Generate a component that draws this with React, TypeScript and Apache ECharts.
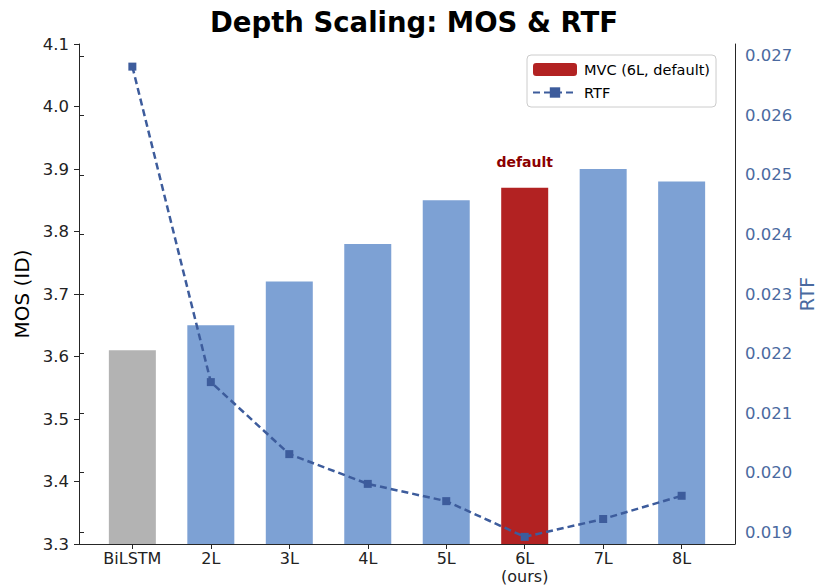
import React, { useEffect, useRef } from "react";
import * as echarts from "echarts";

const categories = ["BiLSTM", "2L", "3L", "4L", "5L", "6L\n(ours)", "7L", "8L"];
const mosValues = [3.61, 3.65, 3.72, 3.78, 3.85, 3.87, 3.9, 3.88];
const rtfValues = [0.02682, 0.02152, 0.02031, 0.01981, 0.01952, 0.01892, 0.01922, 0.01961];
const defaultIndex = 5;
const baselineIndex = 0;
const mosAxis = { min: 3.3, max: 4.1, interval: 0.1 };
const rtfTickAxis = { min: 0.019, max: 0.027, interval: 0.001 };
const rtfDataAxis = { min: 0.0188, max: 0.0272 };

const FONT = "DejaVu Sans";
const BLUE = "#7da1d4";
const GRAY = "#b3b3b3";
const RED = "#b22222";
const LINE = "#3d5c9c";
const RTF_TEXT = "#4a6aa0";
const SPINE = "#262626";

export default function App() {
  const ref = useRef<HTMLDivElement>(null);
  useEffect(() => {
    if (!ref.current) return;
    const chart = echarts.init(ref.current, undefined, { renderer: "svg" });
    const plotLeft = 79, plotRight = 735, plotTop = 44, plotBottom = 544;
    const W = 819, H = 588;
    const n = categories.length;
    const unit = (plotRight - plotLeft) / (n - 1 + 0.6 + 2 * 0.05 * (n - 1 + 0.6));
    const margin = 0.3 + 0.05 * (n - 1 + 0.6) - 0.5;
    const catLeft = plotLeft + margin * unit;
    const catRight = plotRight - margin * unit;
    const plotH = plotBottom - plotTop;
    const rtfSpan = rtfDataAxis.max - rtfDataAxis.min;
    const tickTop = plotTop + ((rtfDataAxis.max - rtfTickAxis.max) / rtfSpan) * plotH;
    const tickBottom = plotBottom - ((rtfTickAxis.min - rtfDataAxis.min) / rtfSpan) * plotH;
    const gridBase = { containLabel: false, outerBoundsMode: "none" };

    const option: any = {
      animation: false,
      backgroundColor: "#ffffff",
      textStyle: { fontFamily: FONT },
      title: {
        text: "Depth Scaling: MOS & RTF",
        left: 409,
        textAlign: "center",
        top: 3,
        textStyle: { fontFamily: FONT, fontSize: 27.5, fontWeight: "bold", color: "#000" },
      },
      legend: {
        orient: "vertical",
        left: 527,
        top: 55,
        padding: [7, 6, 7, 5],
        itemGap: 8,
        itemWidth: 44,
        itemHeight: 13,
        borderColor: "#cccccc",
        borderWidth: 1,
        borderRadius: 4,
        backgroundColor: "rgba(255,255,255,0.85)",
        textStyle: { fontFamily: FONT, fontSize: 14.5, color: "#000", padding: [0, 0, 0, 2] },
        data: ["MVC (6L, default)", "RTF"],
      },
      grid: [
        { ...gridBase, left: plotLeft, right: W - plotRight, top: plotTop, bottom: H - plotBottom },
        { ...gridBase, left: catLeft, right: W - catRight, top: plotTop, bottom: H - plotBottom },
        { ...gridBase, left: plotLeft, right: W - plotRight, top: tickTop, bottom: H - tickBottom },
      ],
      xAxis: [
        {
          type: "value", gridIndex: 0, min: 0, max: 1,
          axisLine: { show: true, lineStyle: { color: SPINE, width: 1 } },
          axisTick: { show: false }, axisLabel: { show: false }, splitLine: { show: false },
        },
        {
          type: "category", gridIndex: 1, data: categories, boundaryGap: true,
          axisLine: { show: false },
          axisTick: { show: true, inside: false, alignWithLabel: true, length: 5, lineStyle: { color: SPINE } },
          axisLabel: { fontFamily: FONT, fontSize: 16, color: "#222", margin: 5, lineHeight: 18 },
          splitLine: { show: false },
        },
        { type: "value", gridIndex: 2, min: 0, max: 1, show: false },
      ],
      yAxis: [
        {
          type: "value", gridIndex: 0, position: "left",
          min: mosAxis.min, max: mosAxis.max, interval: mosAxis.interval,
          axisLine: { show: true, lineStyle: { color: SPINE, width: 1 } },
          axisTick: { show: true, inside: false, length: 5, lineStyle: { color: SPINE } },
          axisLabel: { fontFamily: FONT, fontSize: 16.5, color: "#222", margin: 10, formatter: (v: number) => v.toFixed(1) },
          splitLine: { show: false },
          name: "MOS (ID)", nameLocation: "middle", nameGap: 47, nameRotate: 90, nameMoveOverlap: false,
          nameTextStyle: { fontFamily: FONT, fontSize: 20, color: "#000" },
        },
        {
          type: "value", gridIndex: 0, position: "right", min: 0, max: 1,
          axisLine: { show: true, lineStyle: { color: SPINE, width: 1 } },
          axisTick: { show: false }, axisLabel: { show: false }, splitLine: { show: false },
        },
        { type: "value", gridIndex: 1, min: mosAxis.min, max: mosAxis.max, show: false },
        { type: "value", gridIndex: 1, min: rtfDataAxis.min, max: rtfDataAxis.max, show: false },
        {
          type: "value", gridIndex: 2, position: "right",
          min: rtfTickAxis.min, max: rtfTickAxis.max, interval: rtfTickAxis.interval,
          axisLine: { show: false },
          axisTick: { show: true, inside: false, length: 5, lineStyle: { color: SPINE } },
          axisLabel: { fontFamily: FONT, fontSize: 16.5, color: RTF_TEXT, margin: 10, formatter: (v: number) => v.toFixed(3) },
          splitLine: { show: false },
          name: "RTF", nameLocation: "middle", nameGap: 62, nameRotate: 90, nameMoveOverlap: false,
          nameTextStyle: { fontFamily: FONT, fontSize: 19, color: RTF_TEXT },
        },
      ],
      series: [
        {
          name: "MOS",
          type: "bar",
          xAxisIndex: 1,
          yAxisIndex: 2,
          barWidth: 47,
          barGap: "-100%",
          data: mosValues.map((v, i) =>
            i === defaultIndex ? "-" : { value: v, itemStyle: { color: i === baselineIndex ? GRAY : BLUE } }
          ),
          z: 2,
        },
        {
          name: "MVC (6L, default)",
          type: "bar",
          xAxisIndex: 1,
          yAxisIndex: 2,
          barWidth: 47,
          barGap: "-100%",
          itemStyle: { color: RED },
          data: mosValues.map((v, i) => (i === defaultIndex ? v : "-")),
          label: {
            show: true,
            position: "top",
            distance: 19,
            formatter: "default",
            fontFamily: FONT,
            fontSize: 14,
            fontWeight: "bold",
            color: "#8b0000",
          },
          z: 2,
        },
        {
          name: "RTF",
          type: "line",
          xAxisIndex: 1,
          yAxisIndex: 3,
          data: rtfValues,
          symbol: "rect",
          symbolSize: 8,
          itemStyle: { color: LINE },
          lineStyle: { color: LINE, width: 2.5, type: [7, 4] },
          z: 5,
        },
      ],
    };
    chart.setOption(option);
    return () => chart.dispose();
  }, []);
  return (
    <div
      ref={ref}
      style={{ position: "fixed", left: 0, top: 0, width: 819, height: 588, background: "#fff" }}
    />
  );
}
